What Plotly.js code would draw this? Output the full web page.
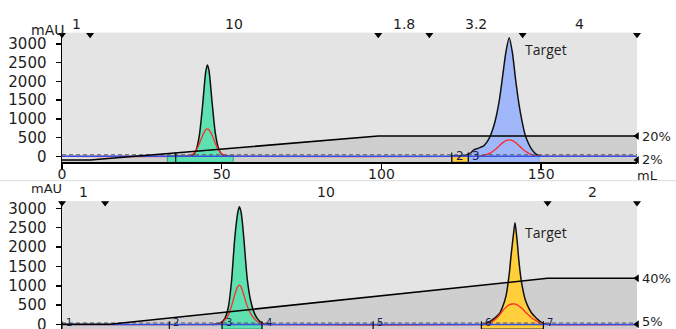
<!DOCTYPE html>
<html><head><meta charset="utf-8">
<script src="https://cdn.plot.ly/plotly-3.0.1.min.js"></script>
<style>html,body{margin:0;padding:0;background:#fff;overflow:hidden}#chart{width:676px;height:329px}</style>
</head><body><div id="chart"></div>
<script>
// ---------------- DATA ----------------
// Run 1 (top panel)
const topFlowBounds = [0, 8.8, 99, 115, 144.2, 180];
const topFlowLabels = ['1', '10', '1.8', '3.2', '4'];
const topGradX = [0, 8.8, 99, 180];
const topGradPct = [2, 2, 20, 20];
const topPeak1X = [39, 40, 41, 42, 43, 44, 45, 45.5, 46, 47, 48, 49, 50, 51, 52];
const topPeak1Y = [0, 5, 30, 170, 560, 1350, 2260, 2440, 2300, 1430, 620, 210, 55, 12, 0];
const topPeak2X = [125, 126, 127, 128, 129, 130, 131, 132, 133, 134, 135, 136, 137, 138, 139, 140, 141, 142, 143, 144, 145, 146, 147, 148, 149, 150];
const topPeak2Y = [0, 10, 50, 95, 180, 205, 240, 280, 380, 530, 760, 1090, 1550, 2180, 2800, 3165, 2760, 2050, 1420, 940, 570, 350, 190, 90, 28, 0];
const topRed1X = [39, 40, 41, 42, 43, 44, 45, 45.5, 46, 47, 48, 49, 50, 51, 52, 53];
const topRed1Y = [4, 17, 58, 158, 334, 551, 708, 730, 708, 560, 345, 170, 65, 20, 5, 0];
const topRed2X = [130, 131, 132, 133, 134, 135, 136, 137, 138, 139, 140, 141, 142, 143, 144, 145, 146, 147, 148, 149, 150, 151];
const topRed2Y = [0, 11, 25, 50, 85, 140, 210, 290, 365, 420, 440, 420, 365, 290, 210, 140, 85, 45, 20, 8, 2, 0];
const topBaseX = [0, 180];
const topBaseY = [0, 0];
const topRefY = [40, 40];
const topFracStart = [33, 122, 127.2];
const topFracEnd = [53.6, 127.2, 149.4];
const topFracMarks = [35.6, 122, 127.2];
const topFracLabels = ['', '2', '3'];

// Run 2 (bottom panel)
const botFlowBounds = [0, 13.5, 152, 180];
const botFlowLabels = ['1', '10', '2'];
const botGradX = [0, 15, 152, 180];
const botGradPct = [5, 5, 40, 40];
const botPeak1X = [47, 48, 49, 50, 51, 52, 53, 54, 54.5, 55, 55.5, 56, 56.5, 57, 58, 59, 60, 61, 62, 63, 64, 65];
const botPeak1Y = [0, 5, 20, 60, 160, 420, 1060, 2150, 2570, 2880, 3040, 2930, 2610, 2150, 1170, 640, 340, 170, 75, 25, 5, 0];
const botPeak2X = [131, 132, 133, 134, 135, 136, 137, 138, 139, 140, 140.5, 141, 141.4, 141.8, 142.2, 142.6, 143, 143.6, 144, 145, 146, 147, 148, 149, 150, 151, 152, 153];
const botPeak2Y = [0, 5, 35, 85, 140, 205, 290, 470, 740, 1300, 1720, 2095, 2380, 2627, 2380, 2050, 1663, 1231, 1016, 646, 443, 299, 208, 128, 60, 24, 5, 0];
const botRed1X = [48, 49, 50, 51, 52, 53, 54, 55, 55.5, 56, 57, 58, 59, 60, 61, 62, 63, 64];
const botRed1Y = [0, 5, 30, 120, 230, 460, 750, 980, 1016, 980, 740, 470, 290, 170, 85, 30, 8, 0];
const botRed2X = [132, 133, 134, 135, 136, 137, 138, 139, 140, 141, 142, 143, 144, 145, 146, 147, 148, 149, 150, 151, 152];
const botRed2Y = [0, 10, 40, 90, 160, 250, 360, 450, 510, 530, 525, 480, 420, 330, 250, 175, 120, 70, 30, 10, 0];
const botBaseX = [0, 180];
const botBaseY = [0, 0];
const botRefY = [40, 40];
const botFracStart = [50.1, 131.3];
const botFracEnd = [62.6, 150.7];
const botFracMarks = [0, 33.6, 50.1, 62.6, 97.4, 131.3, 150.7];
const botFracLabels = ['1', '2', '3', '4', '5', '6', '7'];

const xTicks = [0, 50, 100, 150];
const yTicks = [0, 500, 1000, 1500, 2000, 2500, 3000];
const peakLabel = 'Target';

// ---------------- STYLE ----------------
const FONT = 'DejaVu Sans, Verdana, sans-serif';
const TXT = '#1e1e1e';
const GREEN = '#5fe0b1', BLUE = '#a0b8fa', YELLOW = '#ffd03c';
const GRAD_FILL = '#cfcfcf';
const TOP_FRAC_FILL = [GREEN, YELLOW, BLUE];
const TOP_FRAC_LINE = ['#2fa57c', '#333333', '#88a2ea'];
const BOT_FRAC_FILL = [GREEN, YELLOW];
const BOT_FRAC_LINE = ['#2fa57c', '#333333'];
const X_RANGE = [0, 180];
const TOP_MAU = [-160, 3300], BOT_MAU = [-115, 3190];
const TOP_PCT = [0.27, 97.5], BOT_PCT = [1.42, 98.8];

const traces = [];
const common = {hoverinfo: 'skip', showlegend: false};

function panel(p) {
  // gradient fill (base % axis)
  traces.push(Object.assign({x: p.gradX, y: p.gradPct, xaxis: p.xa, yaxis: p.pa, mode: 'lines',
    line: {width: 0, color: GRAD_FILL}, fill: 'tozeroy', fillcolor: GRAD_FILL}, common));
  // fraction bars
  p.fracStart.forEach((s, i) => {
    const e = p.fracEnd[i], lo = p.mau[0], hi = p.barTop;
    traces.push(Object.assign({x: [s, s, e, e, s], y: [lo, hi, hi, lo, lo], xaxis: p.xa, yaxis: p.ma,
      mode: 'lines', fill: 'toself', fillcolor: p.fracFill[i], line: {color: p.fracLine[i], width: 1}}, common));
  });
  // UV peaks
  p.peaks.forEach(pk => {
    traces.push(Object.assign({x: pk.x, y: pk.y, xaxis: p.xa, yaxis: p.ma, mode: 'lines',
      line: {color: '#111', width: 1.5, shape: 'spline', smoothing: 0.7}, fill: 'tozeroy', fillcolor: pk.c}, common));
  });
  // red trace
  const rx = [p.baseX[0]].concat(p.red1X, p.red2X, [p.baseX[1]]);
  const ry = [p.baseY[0]].concat(p.red1Y, p.red2Y, [p.baseY[1]]);
  traces.push(Object.assign({x: rx, y: ry, xaxis: p.xa, yaxis: p.ma, mode: 'lines',
    line: {color: '#ff2a2a', width: 1.3, shape: 'spline', smoothing: 0.7}}, common));
  // reference dashed line and blue baseline
  traces.push(Object.assign({x: p.baseX, y: p.refY, xaxis: p.xa, yaxis: p.ma, mode: 'lines',
    line: {color: '#555', width: 1, dash: '4px,3px'}}, common));
  traces.push(Object.assign({x: p.baseX, y: p.baseY, xaxis: p.xa, yaxis: p.ma, mode: 'lines',
    line: {color: '#3550e0', width: 1.6}}, common));
  // fraction marks
  const mx = [], my = [];
  p.fracMarks.forEach(m => { mx.push(m, m, null); my.push(p.markTop, p.mau[0], null); });
  traces.push(Object.assign({x: mx, y: my, xaxis: p.xa, yaxis: p.ma, mode: 'lines',
    line: {color: '#111', width: 1.2}}, common));
  // gradient line (overlay % axis, drawn on top)
  traces.push(Object.assign({x: p.gradX, y: p.gradPct, xaxis: p.xa, yaxis: p.la, mode: 'lines',
    line: {color: '#000', width: 1.6}}, common));
  const pmin = Math.min(...p.gradPct), pmax = Math.max(...p.gradPct);
  traces.push(Object.assign({x: [X_RANGE[1], X_RANGE[1]], y: [pmin, pmax], xaxis: p.xa, yaxis: p.la, mode: 'markers',
    marker: {symbol: 'triangle-left', size: 7, color: '#000'}, cliponaxis: false}, common));
  // flow segment markers at top
  const ty = p.mau[1] - 0.015 * (p.mau[1] - p.mau[0]);
  traces.push(Object.assign({x: p.flowBounds, y: p.flowBounds.map(() => ty), xaxis: p.xa, yaxis: p.ma, mode: 'markers',
    marker: {symbol: 'triangle-down', size: 7, color: '#000'}, cliponaxis: false}, common));
}

panel({xa: 'x', pa: 'y', ma: 'y3', la: 'y5', mau: TOP_MAU, gradX: topGradX, gradPct: topGradPct,
  fracStart: topFracStart, fracEnd: topFracEnd, fracFill: TOP_FRAC_FILL, fracLine: TOP_FRAC_LINE, barTop: 20,
  baseX: topBaseX, baseY: topBaseY, refY: topRefY,
  peaks: [{x: topPeak1X, y: topPeak1Y, c: GREEN}, {x: topPeak2X, y: topPeak2Y, c: BLUE}],
  red1X: topRed1X, red1Y: topRed1Y, red2X: topRed2X, red2Y: topRed2Y,
  fracMarks: topFracMarks, markTop: 100, flowBounds: topFlowBounds});
panel({xa: 'x2', pa: 'y2', ma: 'y4', la: 'y6', mau: BOT_MAU, gradX: botGradX, gradPct: botGradPct,
  fracStart: botFracStart, fracEnd: botFracEnd, fracFill: BOT_FRAC_FILL, fracLine: BOT_FRAC_LINE, barTop: 0,
  baseX: botBaseX, baseY: botBaseY, refY: botRefY,
  peaks: [{x: botPeak1X, y: botPeak1Y, c: GREEN}, {x: botPeak2X, y: botPeak2Y, c: YELLOW}],
  red1X: botRed1X, red1Y: botRed1Y, red2X: botRed2X, red2Y: botRed2Y,
  fracMarks: botFracMarks, markTop: 85, flowBounds: botFlowBounds});

// ---------------- ANNOTATIONS ----------------
const ann = [];
const tf = (s) => ({family: FONT, size: s, color: TXT});
function flowLabels(bounds, labels, yp) {
  labels.forEach((l, i) => ann.push({text: l, x: (bounds[i] + bounds[i + 1]) / 2, xref: 'x', y: yp, yref: 'paper',
    showarrow: false, xanchor: 'center', yanchor: 'middle', font: tf(14)}));
}
flowLabels(topFlowBounds, topFlowLabels, 0.927);
flowLabels(botFlowBounds, botFlowLabels, 0.4164);
ann.push({text: 'mAU', x: -0.057, xref: 'paper', y: 0.9407, yref: 'paper', showarrow: false, font: tf(14)});
ann.push({text: 'mAU', x: -0.057, xref: 'paper', y: 0.4286, yref: 'paper', yshift: -1, showarrow: false, font: tf(13)});
ann.push({text: 'mL', x: 1.04, xref: 'paper', y: 0.468, yref: 'paper', showarrow: false, font: tf(13)});
// gradient % labels at the right edge
function pctLabels(vals, yref, shifts) {
  const lo = Math.min(...vals), hi = Math.max(...vals);
  [lo, hi].forEach((v, i) => ann.push({text: v + '%', x: 1.005, xref: 'paper', y: v, yref: yref, xanchor: 'left',
    yanchor: 'middle', yshift: shifts[i], showarrow: false, font: tf(13)}));
}
pctLabels(topGradPct, 'y', [0, 0]);
pctLabels(botGradPct, 'y2', [3, 0]);
ann.push({text: peakLabel, x: 144.4, xref: 'x', y: 2848, yref: 'y3', xanchor: 'left', showarrow: false,
  font: {family: 'Open Sans, sans-serif', size: 14, color: TXT}});
ann.push({text: peakLabel, x: 144.4, xref: 'x2', y: 2379, yref: 'y4', xanchor: 'left', showarrow: false,
  font: {family: 'Open Sans, sans-serif', size: 14, color: TXT}});
topFracMarks.forEach((m, i) => { if (topFracLabels[i]) ann.push({text: topFracLabels[i], x: m + 0.6, xref: 'x', y: 0, yref: 'y3',
  xanchor: 'left', yanchor: 'middle', showarrow: false, font: {family: FONT, size: 12, color: '#1b1f4a'}}); });
botFracMarks.forEach((m, i) => ann.push({text: botFracLabels[i], x: m + 0.6, xref: 'x2', y: BOT_MAU[0], yref: 'y4',
  xanchor: 'left', yanchor: 'bottom', yshift: -1, showarrow: false, font: {family: FONT, size: 10, color: '#1b1f4a'}}));

// ---------------- LAYOUT ----------------
const mauAxis = (ov, anchor, range) => ({overlaying: ov, side: 'left', anchor: anchor, range: range,
  tickvals: yTicks, ticks: 'outside', ticklen: 5, tickwidth: 1.5, tickcolor: '#000',
  showline: true, linecolor: '#000', linewidth: 1.5, showgrid: false, zeroline: false,
  tickfont: tf(15), ticklabelstandoff: 6, ticklabeloverflow: 'allow', fixedrange: true});
const pctAxis = (dom, anchor, range) => ({domain: dom, side: 'right', anchor: anchor, range: range,
  showticklabels: false, ticks: '', showline: false, showgrid: false, zeroline: false, fixedrange: true});

const layout = {
  width: 676, height: 329, autosize: false,
  margin: {l: 62, r: 39, t: 0, b: 0, pad: 0},
  paper_bgcolor: '#ffffff', plot_bgcolor: '#e4e4e4', showlegend: false,
  xaxis: {domain: [0, 1], range: X_RANGE, anchor: 'y', showline: true, linecolor: '#000', linewidth: 1.5,
    ticks: 'outside', ticklen: 5, tickwidth: 1.5, tickcolor: '#000', tickvals: xTicks, showgrid: false, zeroline: false,
    tickfont: tf(14), ticklabelstandoff: -7, fixedrange: true},
  xaxis2: {domain: [0, 1], range: X_RANGE, anchor: 'y2', visible: false, fixedrange: true},
  yaxis: pctAxis([0.5067, 0.9006], 'x', TOP_PCT),
  yaxis2: pctAxis([0, 0.389], 'x2', BOT_PCT),
  yaxis3: mauAxis('y', 'x', TOP_MAU),
  yaxis4: mauAxis('y2', 'x2', BOT_MAU),
  yaxis5: {overlaying: 'y', anchor: 'x', range: TOP_PCT, visible: false, fixedrange: true},
  yaxis6: {overlaying: 'y2', anchor: 'x2', range: BOT_PCT, visible: false, fixedrange: true},
  annotations: ann,
  shapes: [{type: 'line', xref: 'paper', yref: 'paper', x0: -0.11, x1: 1.07, y0: 0.4508, y1: 0.4508,
    line: {color: '#dcdcdc', width: 1}}]
};

Plotly.newPlot('chart', traces, layout, {staticPlot: true, displayModeBar: false});
</script></body></html>
